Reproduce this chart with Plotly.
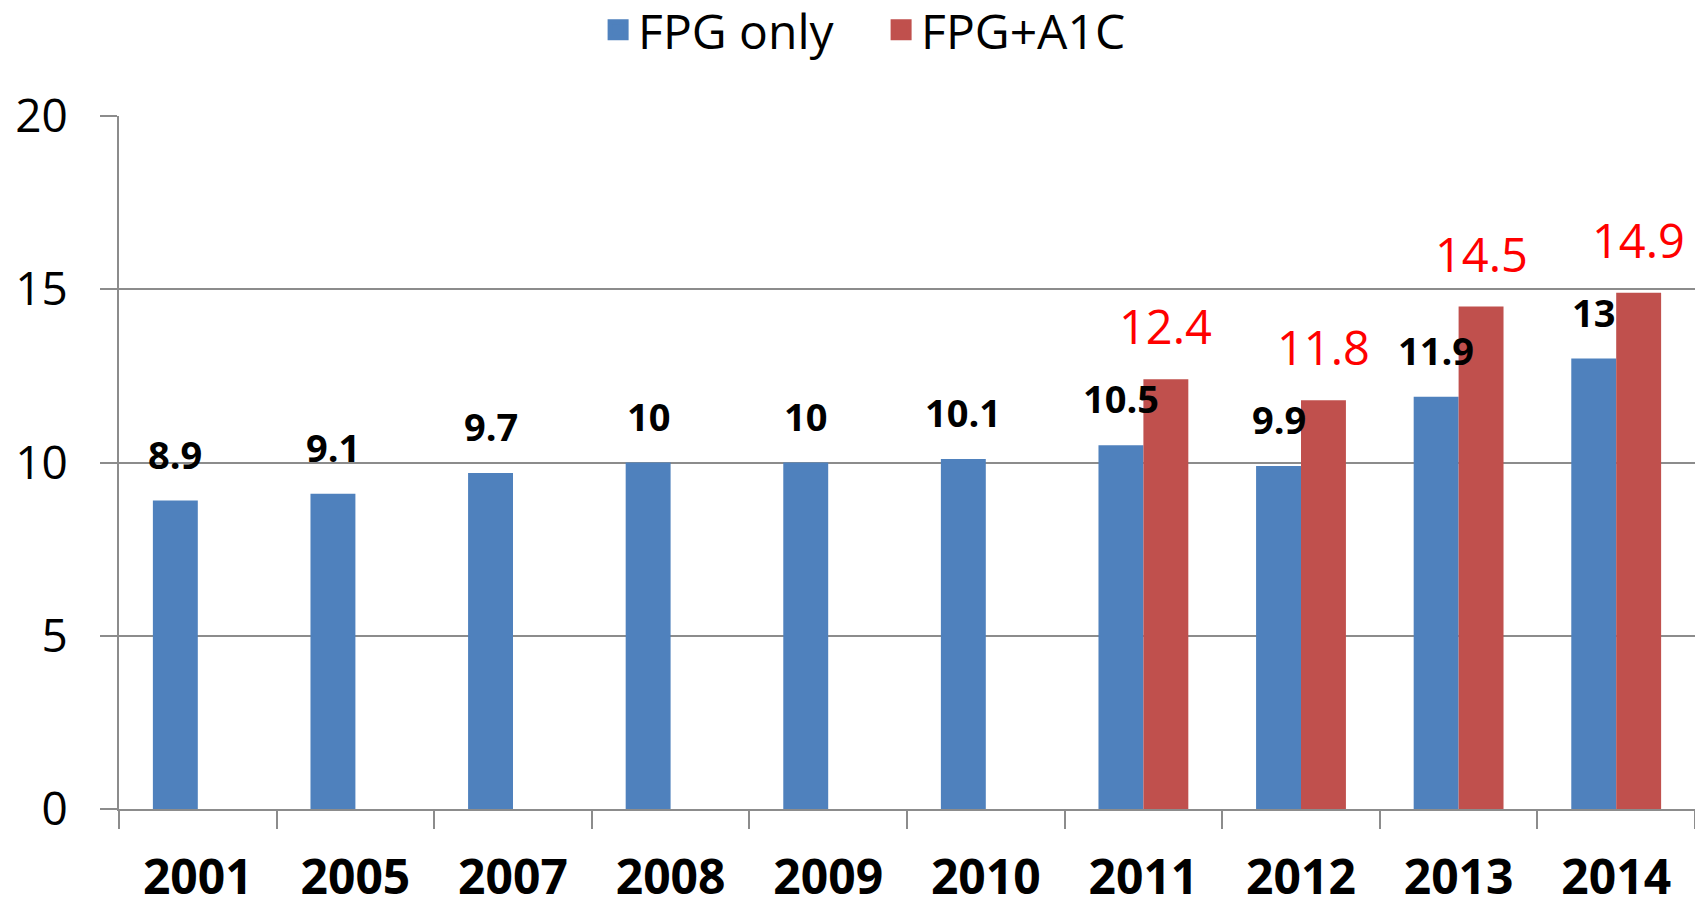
import plotly.graph_objects as go

years = ["2001", "2005", "2007", "2008", "2009", "2010", "2011", "2012", "2013", "2014"]
fpg_only = [8.9, 9.1, 9.7, 10, 10, 10.1, 10.5, 9.9, 11.9, 13]
fpg_a1c = [None, None, None, None, None, None, 12.4, 11.8, 14.5, 14.9]
y_ticks = [0, 5, 10, 15, 20]

BLUE = "#4F81BD"
RED = "#C0504D"
GRID = "#8C8C8C"
FONT = "Open Sans"

W, H = 1695, 902
ML, MR, MT, MB = 119, 0, 116, 93
BARGAP = 0.43

fig = go.Figure()
fig.add_trace(go.Bar(x=years, y=fpg_only, name="FPG only", marker_color=BLUE,
                     marker_line_width=0, showlegend=False))
fig.add_trace(go.Bar(x=years, y=fpg_a1c, name="FPG+A1C", marker_color=RED,
                     marker_line_width=0, showlegend=False))
# legend entries with larger square swatches
for nm, col in [("FPG only", BLUE), ("FPG+A1C", RED)]:
    fig.add_trace(go.Scatter(x=[None], y=[None], mode="markers", name=nm,
                             marker=dict(symbol="square", size=28, color=col,
                                         line=dict(width=6, color=col)),
                             showlegend=True, hoverinfo="skip"))

cat_px = (W - ML - MR) / len(years)
shift = cat_px * (1 - BARGAP) / 4

annotations = []
for i, v in enumerate(fpg_only):
    annotations.append(dict(x=i, y=v, xref="x", yref="y", text=f"<b>{v:g}</b>",
                            showarrow=False, yanchor="bottom", xshift=-shift, yshift=19,
                            font=dict(family=FONT, size=38, color="black")))
for i, v in enumerate(fpg_a1c):
    if v is None:
        continue
    annotations.append(dict(x=i, y=v, xref="x", yref="y", text=f"{v:g}",
                            showarrow=False, yanchor="bottom", xshift=shift, yshift=19,
                            font=dict(family=FONT, size=47, color="#FF0000")))

fig.update_layout(
    width=W, height=H,
    margin=dict(l=ML, r=MR, t=MT, b=MB, pad=0, autoexpand=False),
    paper_bgcolor="white", plot_bgcolor="white",
    barmode="group", bargap=BARGAP, bargroupgap=0,
    font=dict(family=FONT, color="black"),
    showlegend=True,
    legend=dict(orientation="h", x=0.304, xanchor="left", y=1.124, yanchor="middle",
                font=dict(family=FONT, size=48), itemwidth=30, traceorder="normal",
                itemsizing="trace", entrywidth=238, entrywidthmode="pixels"),
    annotations=annotations,
)
fig.update_xaxes(
    type="category", categoryorder="array", categoryarray=years,
    range=[-0.5, len(years) - 0.5], autorange=False, automargin=False,
    showline=True, linecolor=GRID, linewidth=2,
    ticks="outside", tickson="boundaries", ticklen=18, tickcolor=GRID, tickwidth=2,
    tickfont=dict(family=FONT, size=48, color="black", weight="bold"),
    tickangle=0, ticklabelstandoff=25, showgrid=False,
)
fig.update_yaxes(
    range=[0, 20], autorange=False, automargin=False, tickvals=y_ticks,
    showline=True, linecolor=GRID, linewidth=2,
    ticks="outside", ticklen=17, tickcolor=GRID, tickwidth=2,
    showgrid=True, gridcolor=GRID, gridwidth=2, zeroline=False,
    tickfont=dict(family=FONT, size=46, color="black"),
    ticklabelstandoff=23,
)

fig.write_html("out.html", config={"displayModeBar": False},
               post_script="document.body.style.margin='0px';")
